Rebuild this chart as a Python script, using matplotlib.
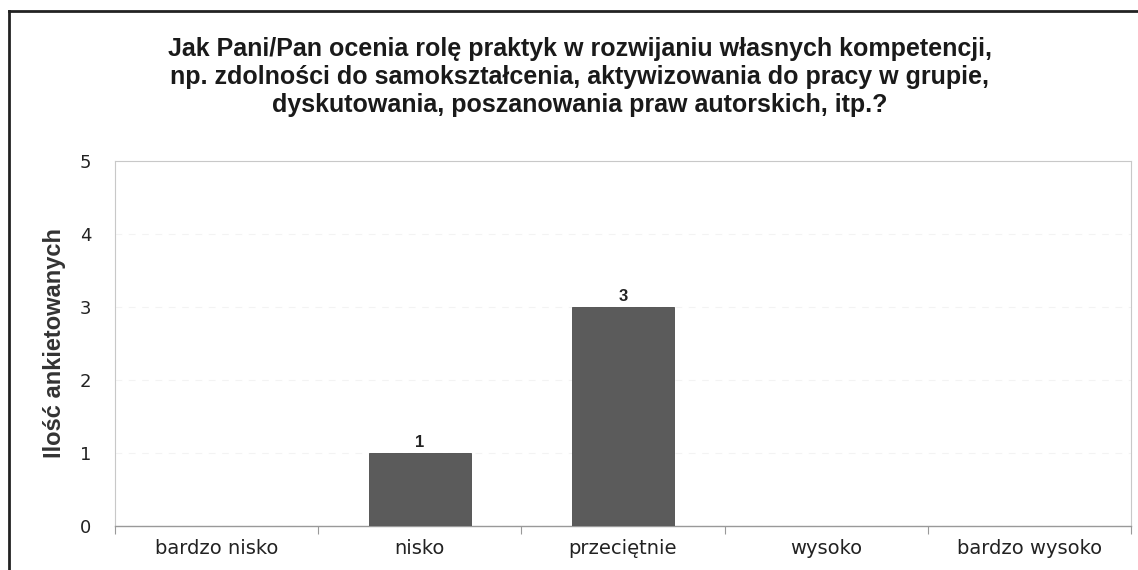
import matplotlib
matplotlib.use("Agg")
import matplotlib.pyplot as plt
from matplotlib.lines import Line2D

categories = ["bardzo nisko", "nisko", "przeciętnie", "wysoko", "bardzo wysoko"]
values = [0, 1, 3, 0, 0]
y_ticks = [0, 1, 2, 3, 4, 5]
title = ("Jak Pani/Pan ocenia rolę praktyk w rozwijaniu własnych kompetencji,\n"
         "np. zdolności do samokształcenia, aktywizowania do pracy w grupie,\n"
         "dyskutowania, poszanowania praw autorskich, itp.?")
ylabel = "Ilość ankietowanych"

W, H = 1138, 570
fig = plt.figure(figsize=(W / 100, H / 100), dpi=100)
fig.patch.set_facecolor("white")

bold_fam = ["Liberation Sans", "DejaVu Sans"]

ax = fig.add_axes([115 / W, (H - 526) / H, (1131 - 115) / W, (526 - 161) / H])
x = list(range(len(categories)))
ax.bar(x, values, width=0.5, color="#5b5b5b", edgecolor="#4a4a4a", linewidth=0.6, zorder=3)
for xi, v in zip(x, values):
    if v > 0:
        ax.text(xi, v + 0.04, str(v), ha="center", va="bottom", fontsize=12,
                fontweight="bold", family=bold_fam, color="#222222")

ax.set_xlim(-0.5, len(categories) - 0.5)
ax.set_ylim(0, 5)
ax.set_yticks(y_ticks)
ax.set_xticks([i - 0.5 for i in range(len(categories) + 1)], minor=False)
ax.set_xticklabels([""] * (len(categories) + 1))
ax.set_xticks(x, minor=True)
ax.set_xticklabels(categories, minor=True, fontsize=14, color="#222222", family=["DejaVu Sans"])
ax.tick_params(axis="x", which="major", length=6, color="#999999", width=0.8)
ax.tick_params(axis="x", which="minor", length=0, pad=9)
ax.tick_params(axis="y", length=0, pad=17, labelsize=13, labelcolor="#222222")
for lbl in ax.get_yticklabels():
    lbl.set_family(["DejaVu Sans"])

ax.grid(axis="y", color="#f3f3f3", linewidth=0.8, linestyle=(0, (6, 6)), zorder=0)
for s in ["top", "left", "right"]:
    ax.spines[s].set_color("#c8c8c8")
    ax.spines[s].set_linewidth(0.8)
ax.spines["bottom"].set_color("#999999")
ax.spines["bottom"].set_linewidth(1.0)

ax.set_ylabel(ylabel, fontsize=17, fontweight="bold", family=bold_fam,
              color="#333333", labelpad=10)

fig.text(580 / W, 1 - 77 / H, title, ha="center", va="center", fontsize=18, fontweight="bold",
         family=bold_fam, color="#1a1a1a", linespacing=1.22)

# outer frame (left and top edges)
fig.add_artist(Line2D([9 / W, 9 / W], [0, 1 - 11 / H], transform=fig.transFigure, color="#222222", linewidth=2))
fig.add_artist(Line2D([9 / W, 1], [1 - 11 / H, 1 - 11 / H], transform=fig.transFigure, color="#222222", linewidth=2))

fig.savefig("out.png", dpi=100)
